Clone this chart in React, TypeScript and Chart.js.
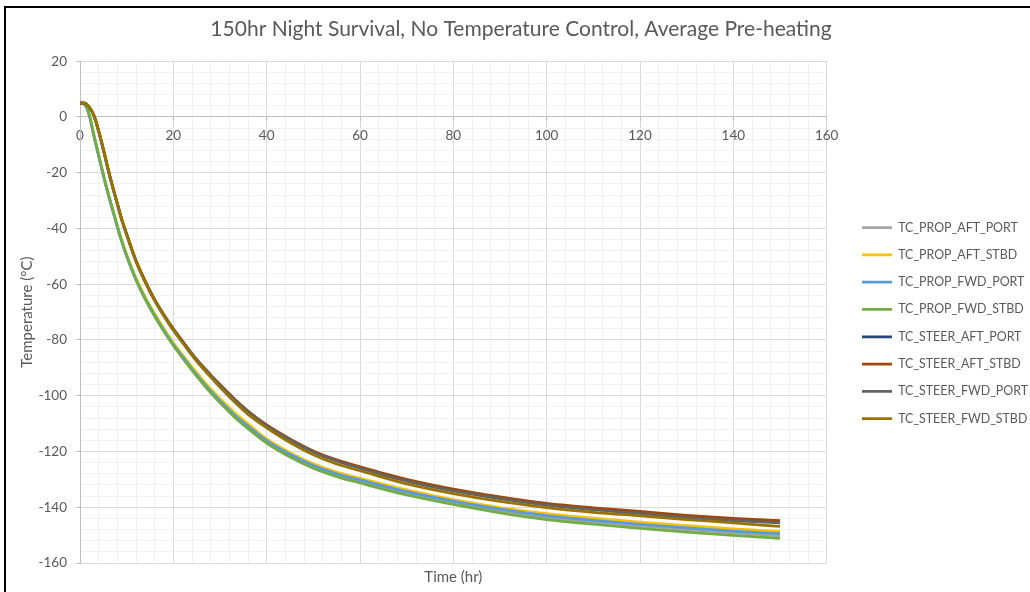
import React, { useEffect, useRef } from 'react';
import { Chart, registerables } from 'chart.js';

Chart.register(...registerables);

const chartTitle = '150hr Night Survival, No Temperature Control, Average Pre-heating';
const xAxisTitle = 'Time (hr)';
const yAxisTitle = 'Temperature (°C)';

const hours = [0, 1, 2, 3, 4, 5, 6, 7, 8, 9, 10, 12, 14, 16, 18, 20, 22, 25, 28, 30, 33, 36, 40, 45, 50, 55, 60, 70, 80, 90, 100, 110, 120, 130, 140, 150];

const seriesNames = [
  'TC_PROP_AFT_PORT',
  'TC_PROP_AFT_STBD',
  'TC_PROP_FWD_PORT',
  'TC_PROP_FWD_STBD',
  'TC_STEER_AFT_PORT',
  'TC_STEER_AFT_STBD',
  'TC_STEER_FWD_PORT',
  'TC_STEER_FWD_STBD',
];

const seriesColors = ['#A5A5A5', '#FFC000', '#5B9BD5', '#70AD47', '#264478', '#9E480E', '#636363', '#997300'];

const propAftPort = [5, 4.5, 0.6, -6.9, -13.9, -20.9, -27.4, -33.4, -39.4, -44.9, -49.9, -58.4, -65.3, -71.3, -76.8, -81.8, -86.2, -92.7, -98.6, -102.1, -107, -111.3, -116.5, -121.4, -125.4, -128.4, -130.7, -134.9, -138.3, -141.2, -143.6, -145.3, -146.7, -148, -149.2, -150.3];
const propAftStbd = [5, 4.6, 0.8, -6.5, -13.5, -20.5, -27, -33, -39, -44.4, -49.4, -57.8, -64.7, -70.6, -76, -81, -85.4, -91.7, -97.6, -101, -105.9, -110.1, -115.5, -120.4, -124.4, -127.4, -129.6, -133.8, -137.3, -140.1, -142.3, -143.9, -145.3, -146.6, -147.8, -148.7];
const propFwdPort = [5, 4.5, 0.6, -6.8, -13.8, -20.8, -27.3, -33.3, -39.3, -44.8, -49.8, -58.3, -65.2, -71.1, -76.6, -81.6, -86, -92.4, -98.3, -101.8, -106.7, -110.9, -116.1, -121, -125, -128, -130.2, -134.4, -137.8, -140.7, -143, -144.7, -146.1, -147.4, -148.6, -149.5];
const propFwdStbd = [5, 4.5, 0.5, -7, -14, -21, -27.5, -33.5, -39.5, -45, -50, -58.5, -65.5, -71.5, -77, -82, -86.5, -93, -99, -102.5, -107.5, -111.8, -117, -122, -126, -129, -131.3, -135.6, -139, -142, -144.4, -146.1, -147.6, -148.9, -150.1, -151.2];
const steerAftPort = [5, 5, 3.5, 0.4, -5.1, -11.6, -18.6, -25.1, -31.1, -37.1, -42.1, -51.6, -59.1, -65.6, -71.1, -76.1, -80.6, -87.1, -92.6, -96.2, -101.2, -105.7, -110.7, -115.8, -120.1, -123.3, -125.8, -130.4, -133.9, -136.7, -139, -140.7, -142, -143.4, -144.5, -145.3];
const steerAftStbd = [5, 5, 3.5, 0.5, -5, -11.5, -18.5, -25, -31, -37, -42, -51.5, -59, -65.5, -71, -76, -80.5, -87, -92.5, -96, -101, -105.5, -110.5, -115.5, -119.8, -123, -125.5, -130, -133.5, -136.3, -138.6, -140.2, -141.5, -142.9, -144, -144.8];
const steerFwdPort = [5, 5, 3.5, 0.4, -5.2, -11.7, -18.7, -25.2, -31.2, -37.2, -42.2, -51.7, -59.2, -65.7, -71.2, -76.2, -80.7, -87.2, -92.7, -96.3, -101.3, -105.8, -110.8, -115.9, -120.2, -123.4, -126, -130.6, -134.1, -136.9, -139.2, -140.9, -142.3, -143.7, -144.8, -145.6];
const steerFwdStbd = [5, 5, 3.4, 0.3, -5.3, -11.8, -18.8, -25.3, -31.3, -37.3, -42.4, -51.9, -59.4, -66, -71.5, -76.6, -81.1, -87.7, -93.3, -97, -102.1, -106.7, -111.5, -116.8, -121.2, -124.5, -126.9, -131.6, -135.1, -137.9, -140.1, -141.8, -143.1, -144.4, -145.6, -146.9];

const xMin = 0;
const xMax = 160;
const yMin = -160;
const yMax = 20;
const minorStep = 4;
const majorStep = 20;

const FONT = 'Lato, "Open Sans", sans-serif';
const TEXT = '#595959';
const MAJOR_GRID = '#D9D9D9';
const MINOR_GRID = '#F2F2F2';
const AXIS_LINE = '#BFBFBF';

export default function App() {
  const ref = useRef<HTMLCanvasElement>(null);

  useEffect(() => {
    if (!ref.current) return;
    const seriesValues = [propAftPort, propAftStbd, propFwdPort, propFwdStbd, steerAftPort, steerAftStbd, steerFwdPort, steerFwdStbd];
    const datasets = seriesNames.map((name, i) => ({
      label: name,
      data: hours.map((h, j) => ({ x: h, y: seriesValues[i][j] })),
      borderColor: seriesColors[i],
      backgroundColor: seriesColors[i],
      borderWidth: 2.75,
      pointRadius: 0,
      pointHoverRadius: 0,
      cubicInterpolationMode: 'monotone' as const,
      order: seriesNames.length - i,
      xAxisID: 'x',
      yAxisID: 'y',
    }));

    const isMajor = (v: number) => Math.abs(v % majorStep) < 1e-9;
    const gridColor = (ctx: any) => (ctx.tick && isMajor(ctx.tick.value) ? MAJOR_GRID : MINOR_GRID);
    const tickColor = (ctx: any) => (ctx.tick && isMajor(ctx.tick.value) ? AXIS_LINE : 'rgba(0,0,0,0)');
    const tickLabel = (v: any) => (isMajor(Number(v)) ? String(v) : '');

    const chart = new Chart(ref.current, {
      type: 'line',
      data: { datasets },
      options: {
        animation: false,
        responsive: false,
        events: [],
        layout: { padding: { left: 12, right: 0, top: 0, bottom: 0 } },
        plugins: {
          title: {
            display: true,
            text: chartTitle,
            color: TEXT,
            font: { family: FONT, size: 21, weight: 'normal' },
            padding: { top: 16.3, bottom: 19.7 },
          },
          legend: {
            display: true,
            position: 'right',
            align: 'center',
            fullSize: false,
            maxWidth: 182.9,
            title: { display: true, text: ' ', font: { size: 10 }, padding: 5 },
            labels: {
              usePointStyle: true,
              pointStyle: 'line',
              pointStyleWidth: 30,
              padding: 14.9,
              color: TEXT,
              font: { family: FONT, size: 12.4 },
              sort: (a: any, b: any) => a.datasetIndex - b.datasetIndex,
            },
          },
          tooltip: { enabled: false },
        },
        scales: {
          x: {
            type: 'linear',
            position: { y: 0 } as any,
            min: xMin,
            max: xMax,
            ticks: {
              stepSize: minorStep,
              autoSkip: false,
              maxRotation: 0,
              callback: tickLabel,
              color: TEXT,
              font: { family: FONT, size: 13.5 },
              padding: 7,
            },
            grid: { color: gridColor, tickColor, tickLength: 4, lineWidth: 1 },
            border: { color: AXIS_LINE, width: 1 },
          },
          y: {
            type: 'linear',
            position: 'left',
            min: yMin,
            max: yMax,
            ticks: {
              stepSize: minorStep,
              autoSkip: false,
              callback: tickLabel,
              color: TEXT,
              font: { family: FONT, size: 13.5 },
              padding: 9,
            },
            grid: { color: gridColor, tickColor, tickLength: 4, lineWidth: 1 },
            border: { color: AXIS_LINE, width: 1 },
            title: {
              display: true,
              text: yAxisTitle,
              color: TEXT,
              font: { family: FONT, size: 15 },
              padding: { top: 6.3, bottom: 0 },
            },
            afterFit: (s: any) => {
              s.width = 68;
            },
          },
          xTitle: {
            type: 'linear',
            position: 'bottom',
            min: xMin,
            max: xMax,
            ticks: { display: false },
            grid: { display: false },
            border: { display: false },
            title: {
              display: true,
              text: xAxisTitle,
              color: TEXT,
              font: { family: FONT, size: 15 },
              padding: { top: 0, bottom: 6 },
            },
            afterFit: (s: any) => {
              s.height = 29;
            },
          },
          yR: {
            type: 'linear',
            position: 'right',
            min: yMin,
            max: yMax,
            ticks: { display: false },
            grid: { display: false },
            border: { display: false },
            afterFit: (s: any) => {
              s.width = 20.4;
            },
          },
        },
      } as any,
    });

    return () => chart.destroy();
  }, []);

  return (
    <div style={{ position: 'fixed', left: 0, top: 0, width: 1030, height: 592, background: '#ffffff', overflow: 'hidden' }}>
      <canvas ref={ref} width={1030} height={592} style={{ position: 'absolute', left: 0, top: 0, width: 1030, height: 592 }} />
      <div style={{ position: 'absolute', left: 4, top: 6, width: 2, height: 586, background: '#000' }} />
      <div style={{ position: 'absolute', left: 4, top: 6, width: 1026, height: 2, background: '#000' }} />
    </div>
  );
}
